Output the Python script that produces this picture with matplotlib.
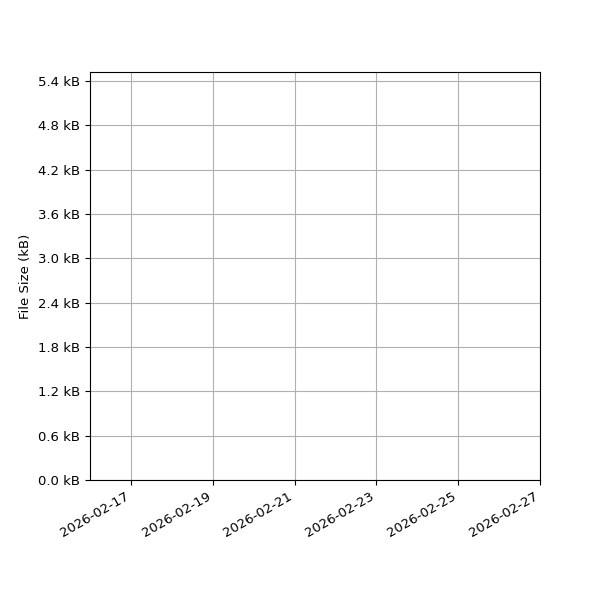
import numpy as np
import matplotlib
matplotlib.use("Agg")
import matplotlib.pyplot as plt
import matplotlib.dates as mdates
from matplotlib.ticker import FuncFormatter
from datetime import datetime

# no file records in the range -> empty series
dates = []
sizes_kb = []

date_start = datetime(2026, 2, 16)
date_end = datetime(2026, 2, 27)
ytick_vals = [0.0, 0.6, 1.2, 1.8, 2.4, 3.0, 3.6, 4.2, 4.8, 5.4]
y_max = 5.52

plt.rcParams['font.size'] = 9.5

fig, ax = plt.subplots(figsize=(6, 6), dpi=100)
ax.plot(dates, sizes_kb, marker="o")

ax.set_xlim(date_start, date_end)
ax.set_ylim(0, y_max)
ax.set_yticks(ytick_vals)
ax.yaxis.set_major_formatter(FuncFormatter(lambda v, p: f"{v:.1f} kB"))
ax.xaxis.set_major_locator(mdates.DayLocator(bymonthday=range(1, 32, 2)))
ax.xaxis.set_major_formatter(mdates.DateFormatter("%Y-%m-%d"))
ax.set_ylabel("File Size (kB)")
ax.grid(True)

fig.autofmt_xdate()
fig.subplots_adjust(left=0.15)
fig.savefig("out.png")
